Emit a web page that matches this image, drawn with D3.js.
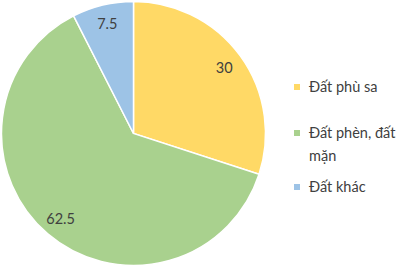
<!DOCTYPE html>
<html>
<head>
<meta charset="utf-8">
<script src="https://cdn.jsdelivr.net/npm/d3@7"></script>
<style>
  body { margin: 0; background: #fff; }
  svg { display: block; font-family: Lato, "Open Sans", sans-serif; }
</style>
</head>
<body>
<div id="container"></div>
<script>
let categories = ["Đất phù sa", "Đất phèn, đất mặn", "Đất khác"]
let values = [30, 62.5, 7.5]
let colors = ["#FFD966", "#A9D18E", "#9DC3E6"]
let legendLines = [["Đất phù sa"], ["Đất phèn, đất", "mặn"], ["Đất khác"]]

let width = 399
let height = 267
let cx = 133.5, cy = 133.5, radius = 132

let data = categories.map((c, i) => ({name: c, value: values[i], color: colors[i], lines: legendLines[i]}))

let svg = d3.select("#container")
    .append("svg")
    .attr("width", width)
    .attr("height", height)

let pie = d3.pie().sort(null).value(d => d.value)
let arcs = pie(data)

let arc = d3.arc().innerRadius(0).outerRadius(radius)
let labelArc = d3.arc().innerRadius(radius * 0.85).outerRadius(radius * 0.85)

let g = svg.append("g").attr("transform", `translate(${cx},${cy})`)

g.selectAll("path")
    .data(arcs)
    .join("path")
    .attr("d", arc)
    .attr("fill", d => d.data.color)
    .attr("stroke", "#fff")
    .attr("stroke-width", 1.5)

g.selectAll("text")
    .data(arcs)
    .join("text")
    .attr("transform", d => `translate(${labelArc.centroid(d)})`)
    .attr("text-anchor", "middle")
    .attr("dy", "0.35em")
    .attr("font-size", 14.5)
    .attr("fill", "#404040")
    .text(d => d.data.value)

// legend
let legendY = [87, 133, 187]
let legend = svg.append("g")
    .selectAll("g")
    .data(data)
    .join("g")
    .attr("transform", (d, i) => `translate(294,${legendY[i]})`)

legend.append("rect")
    .attr("x", 0)
    .attr("y", -3)
    .attr("width", 6)
    .attr("height", 6)
    .attr("fill", d => d.color)

legend.append("text")
    .attr("font-size", 14.5)
    .attr("fill", "#404040")
    .selectAll("tspan")
    .data(d => d.lines)
    .join("tspan")
    .attr("x", 15)
    .attr("y", (d, i) => i * 23)
    .attr("dy", "0.35em")
    .text(d => d)
</script>
</body>
</html>
